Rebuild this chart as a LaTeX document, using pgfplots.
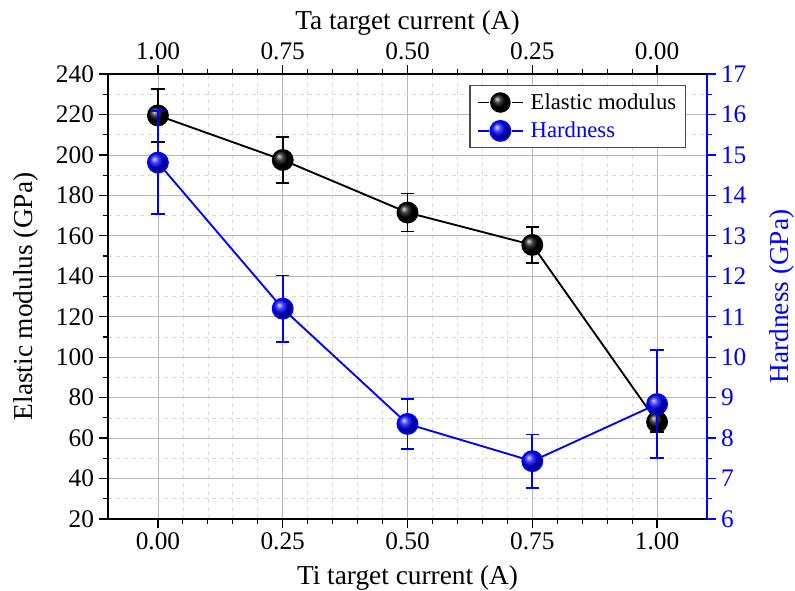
\documentclass[border=0pt]{standalone}
\usepackage{pgfplots}
\pgfplotsset{compat=1.18}
\usepackage{fontspec}
\setmainfont{Liberation Serif}
\definecolor{hblue}{RGB}{0,0,255}
\pgfplotstableread{
x   y      e
0.00 219.5 13.0
0.25 197.5 11.5
0.50 171.5 9.4
0.75 155.5 9.0
1.00 68.0  5.0
}\elastic
\pgfplotstableread{
x   y      e
0.00 14.81 1.27
0.25 11.20 0.82
0.50 8.35  0.62
0.75 7.43  0.66
1.00 8.84  1.34
}\hardness
\begin{document}
\begin{tikzpicture}
\pgfplotsset{
  common/.style={
    at={(0,0)}, anchor=south west,
    scale only axis, width=449.25pt, height=333.75pt,
    xmin=-0.1, xmax=1.1,
    xtick={0,0.25,0.5,0.75,1},
    minor x tick num=4,
    minor y tick num=1,
    tick align=outside,
    major tick length=7pt, minor tick length=4pt,
    every tick/.style={line width=0.9pt},
    every minor tick/.style={line width=0.9pt},
    axis line style={-, line width=1.1pt},
    /pgf/number format/assume math mode=true,
    tick label style={font=\fontsize{19}{19}\selectfont},
    label style={font=\fontsize{20.5}{21}\selectfont},
  }
}
\begin{axis}[common,
  axis x line*=bottom, axis y line*=left,
  ymin=20, ymax=240, ytick={20,40,...,240},
  xticklabels={0.00,0.25,0.50,0.75,1.00},
  grid=both,
  major grid style={gray!55, line width=0.6pt},
  minor grid style={gray!30, dashed, line width=0.5pt},
  xlabel={Ti target current (A)},
  ylabel={Elastic modulus (GPa)},
  x label style={at={(axis description cs:0.5,-0.1326)}, anchor=center},
  y label style={at={(axis description cs:-0.1369,0.5)}, anchor=center},
]
\addplot[black, line width=1.4pt, mark=ball, mark size=7.5pt, mark options={ball color=black},
  error bars/.cd, y dir=both, y explicit,
  error bar style={line width=1.4pt, black},
  error mark options={rotate=90, mark size=5pt, line width=1.4pt, black}]
  table[x=x, y=y, y error=e] {\elastic};
\end{axis}
\begin{axis}[common,
  axis x line*=top, axis y line*=right,
  ymin=6, ymax=17, ytick={6,7,...,17},
  xticklabels={1.00,0.75,0.50,0.25,0.00},
  x axis line style={black},
  y axis line style={hblue},
  y tick style={hblue}, minor y tick style={hblue},
  y tick label style={hblue},
  xlabel={Ta target current (A)},
  ylabel={Hardness (GPa)},
  ylabel style={hblue},
  x label style={at={(axis description cs:0.5,1.1146)}, anchor=center},
  y label style={at={(axis description cs:1.1252,0.5)}, anchor=center},
  legend style={at={(0.965,0.975)}, anchor=north east,
    font=\fontsize{17}{19}\selectfont, draw=black!70, line width=0.8pt,
    inner xsep=5pt, inner ysep=4pt, row sep=4pt, column sep=3pt},
  legend cell align=left,
  legend image code/.code={%
    \draw[#1] (0cm,0cm) -- (0.3cm,0cm);
    \draw[#1] (0.9cm,0cm) -- (1.2cm,0cm);
    \draw[#1, only marks] plot coordinates {(0.6cm,0cm)};
  },
]
\addlegendimage{black, line width=1.4pt, mark=ball, mark size=7pt, mark options={ball color=black}}
\addlegendentry{Elastic modulus}
\addplot[hblue, line width=1.4pt, mark=ball, mark size=7.5pt, mark options={ball color=hblue},
  error bars/.cd, y dir=both, y explicit,
  error bar style={line width=1.4pt, hblue},
  error mark options={rotate=90, mark size=5pt, line width=1.4pt, hblue}]
  table[x=x, y=y, y error=e] {\hardness};
\addlegendentry{\textcolor{hblue}{Hardness}}
\end{axis}
\pgfresetboundingbox
\path[use as bounding box] (-81pt,-54pt) rectangle (515.25pt,389.25pt);
\end{tikzpicture}
\end{document}
